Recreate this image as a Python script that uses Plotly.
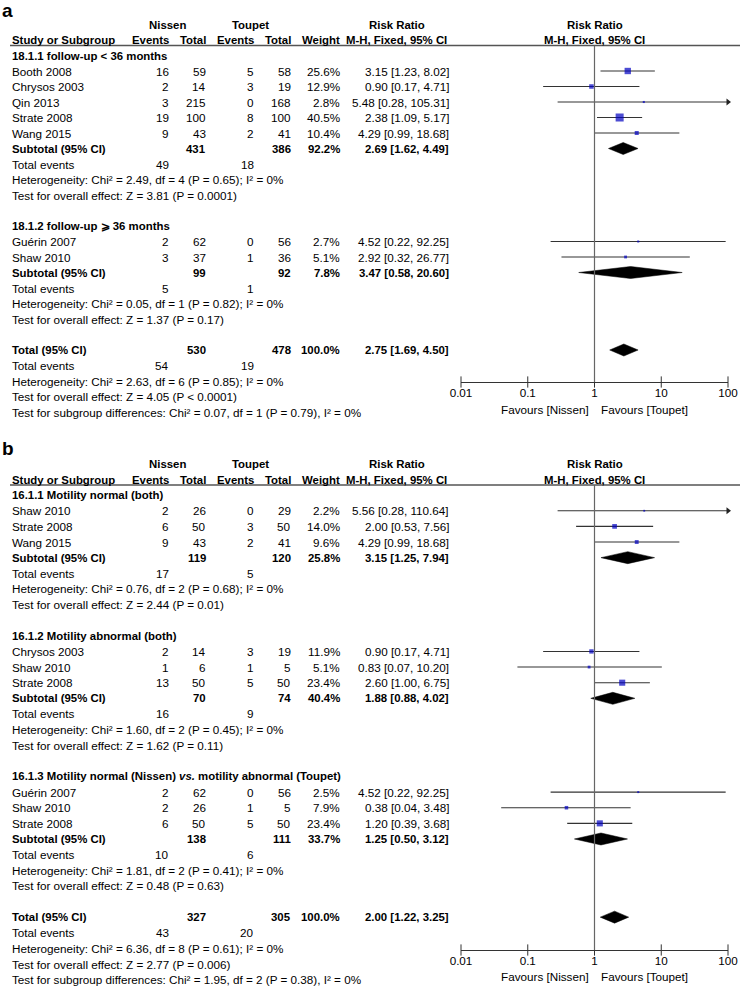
import math
import plotly.graph_objects as go

W, H = 740, 992
FONT = "Liberation Sans, Arial, sans-serif"
FS = 11.7
FS_BOLD = 11.4

# ---------------- axis ticks ----------------
TICK_VALUES = [0.01, 0.1, 1, 10, 100]
TICK_LABELS = ["0.01", "0.1", "1", "10", "100"]
X_RANGE_LOG = [-2, 2]
NO_EFFECT = 1

# ---------------- Panel a data ----------------
A_GROUP_TITLES = ["18.1.1 follow-up < 36 months", "18.1.2 follow-up ⩾ 36 months"]
A_STUDY_GROUP = [0, 0, 0, 0, 0, 1, 1]
A_STUDY = ["Booth 2008", "Chrysos 2003", "Qin 2013", "Strate 2008", "Wang 2015",
           "Guérin 2007", "Shaw 2010"]
A_NISSEN_EVENTS = [16, 2, 3, 19, 9, 2, 3]
A_NISSEN_TOTAL = [59, 14, 215, 100, 43, 62, 37]
A_TOUPET_EVENTS = [5, 3, 0, 8, 2, 0, 1]
A_TOUPET_TOTAL = [58, 19, 168, 100, 41, 56, 36]
A_WEIGHT = [25.6, 12.9, 2.8, 40.5, 10.4, 2.7, 5.1]
A_RR = [3.15, 0.90, 5.48, 2.38, 4.29, 4.52, 2.92]
A_LO = [1.23, 0.17, 0.28, 1.09, 0.99, 0.22, 0.32]
A_HI = [8.02, 4.71, 105.31, 5.17, 18.68, 92.25, 26.77]

A_SUB_NISSEN_TOTAL = [431, 99]
A_SUB_TOUPET_TOTAL = [386, 92]
A_SUB_WEIGHT = [92.2, 7.8]
A_SUB_RR = [2.69, 3.47]
A_SUB_LO = [1.62, 0.58]
A_SUB_HI = [4.49, 20.60]
A_SUB_NISSEN_EVENTS = [49, 5]
A_SUB_TOUPET_EVENTS = [18, 1]
A_SUB_HET = ["Chi² = 2.49, df = 4 (P = 0.65); I² = 0%",
             "Chi² = 0.05, df = 1 (P = 0.82); I² = 0%"]
A_SUB_Z = ["Z = 3.81 (P = 0.0001)", "Z = 1.37 (P = 0.17)"]

A_TOT_NISSEN_TOTAL = 530
A_TOT_TOUPET_TOTAL = 478
A_TOT_WEIGHT = 100.0
A_TOT_RR = 2.75
A_TOT_LO = 1.69
A_TOT_HI = 4.50
A_TOT_NISSEN_EVENTS = 54
A_TOT_TOUPET_EVENTS = 19
A_TOT_HET = "Chi² = 2.63, df = 6 (P = 0.85); I² = 0%"
A_TOT_Z = "Z = 4.05 (P < 0.0001)"
A_SUBGROUP_DIFF = "Chi² = 0.07, df = 1 (P = 0.79), I² = 0%"

# ---------------- Panel b data ----------------
B_GROUP_TITLES = ["16.1.1 Motility normal (both)",
                  "16.1.2 Motility abnormal (both)",
                  "16.1.3 Motility normal (Nissen) <i>vs.</i> motility abnormal (Toupet)"]
B_STUDY_GROUP = [0, 0, 0, 1, 1, 1, 2, 2, 2]
B_STUDY = ["Shaw 2010", "Strate 2008", "Wang 2015",
           "Chrysos 2003", "Shaw 2010", "Strate 2008",
           "Guérin 2007", "Shaw 2010", "Strate 2008"]
B_NISSEN_EVENTS = [2, 6, 9, 2, 1, 13, 2, 2, 6]
B_NISSEN_TOTAL = [26, 50, 43, 14, 6, 50, 62, 26, 50]
B_TOUPET_EVENTS = [0, 3, 2, 3, 1, 5, 0, 1, 5]
B_TOUPET_TOTAL = [29, 50, 41, 19, 5, 50, 56, 5, 50]
B_WEIGHT = [2.2, 14.0, 9.6, 11.9, 5.1, 23.4, 2.5, 7.9, 23.4]
B_RR = [5.56, 2.00, 4.29, 0.90, 0.83, 2.60, 4.52, 0.38, 1.20]
B_LO = [0.28, 0.53, 0.99, 0.17, 0.07, 1.00, 0.22, 0.04, 0.39]
B_HI = [110.64, 7.56, 18.68, 4.71, 10.20, 6.75, 92.25, 3.48, 3.68]

B_SUB_NISSEN_TOTAL = [119, 70, 138]
B_SUB_TOUPET_TOTAL = [120, 74, 111]
B_SUB_WEIGHT = [25.8, 40.4, 33.7]
B_SUB_RR = [3.15, 1.88, 1.25]
B_SUB_LO = [1.25, 0.88, 0.50]
B_SUB_HI = [7.94, 4.02, 3.12]
B_SUB_NISSEN_EVENTS = [17, 16, 10]
B_SUB_TOUPET_EVENTS = [5, 9, 6]
B_SUB_HET = ["Chi² = 0.76, df = 2 (P = 0.68); I² = 0%",
             "Chi² = 1.60, df = 2 (P = 0.45); I² = 0%",
             "Chi² = 1.81, df = 2 (P = 0.41); I² = 0%"]
B_SUB_Z = ["Z = 2.44 (P = 0.01)", "Z = 1.62 (P = 0.11)", "Z = 0.48 (P = 0.63)"]

B_TOT_NISSEN_TOTAL = 327
B_TOT_TOUPET_TOTAL = 305
B_TOT_WEIGHT = 100.0
B_TOT_RR = 2.00
B_TOT_LO = 1.22
B_TOT_HI = 3.25
B_TOT_NISSEN_EVENTS = 43
B_TOT_TOUPET_EVENTS = 20
B_TOT_HET = "Chi² = 6.36, df = 8 (P = 0.61); I² = 0%"
B_TOT_Z = "Z = 2.77 (P = 0.006)"
B_SUBGROUP_DIFF = "Chi² = 1.95, df = 2 (P = 0.38), I² = 0%"

# ---------------- layout constants (pixels) ----------------
COL_STUDY = 11
COL_N_EV = 170
COL_N_TOT = 207
COL_T_EV = 255
COL_T_TOT = 292
COL_WEIGHT = 341
COL_RR = 450
COL_NISSEN_HDR = 167
COL_TOUPET_HDR = 251
COL_RR_HDR = 397
X_DOMAIN_PX = (461, 728)

PANELS = [
    dict(label="a", row0=40.0, rowh=15.5, top=2, bottom=426, axis_px=382, line_px=45.5,
         favours_px=409, label_px=10,
         groups=A_GROUP_TITLES, sg=A_STUDY_GROUP, study=A_STUDY,
         nev=A_NISSEN_EVENTS, ntot=A_NISSEN_TOTAL, tev=A_TOUPET_EVENTS, ttot=A_TOUPET_TOTAL,
         w=A_WEIGHT, rr=A_RR, lo=A_LO, hi=A_HI,
         s_ntot=A_SUB_NISSEN_TOTAL, s_ttot=A_SUB_TOUPET_TOTAL, s_w=A_SUB_WEIGHT,
         s_rr=A_SUB_RR, s_lo=A_SUB_LO, s_hi=A_SUB_HI, s_nev=A_SUB_NISSEN_EVENTS,
         s_tev=A_SUB_TOUPET_EVENTS, s_het=A_SUB_HET, s_z=A_SUB_Z,
         t_ntot=A_TOT_NISSEN_TOTAL, t_ttot=A_TOT_TOUPET_TOTAL, t_w=A_TOT_WEIGHT,
         t_rr=A_TOT_RR, t_lo=A_TOT_LO, t_hi=A_TOT_HI, t_nev=A_TOT_NISSEN_EVENTS,
         t_tev=A_TOT_TOUPET_EVENTS, t_het=A_TOT_HET, t_z=A_TOT_Z, diff=A_SUBGROUP_DIFF),
    dict(label="b", row0=479.5, rowh=15.63, top=434, bottom=991, axis_px=950, line_px=485,
         favours_px=976, label_px=448,
         groups=B_GROUP_TITLES, sg=B_STUDY_GROUP, study=B_STUDY,
         nev=B_NISSEN_EVENTS, ntot=B_NISSEN_TOTAL, tev=B_TOUPET_EVENTS, ttot=B_TOUPET_TOTAL,
         w=B_WEIGHT, rr=B_RR, lo=B_LO, hi=B_HI,
         s_ntot=B_SUB_NISSEN_TOTAL, s_ttot=B_SUB_TOUPET_TOTAL, s_w=B_SUB_WEIGHT,
         s_rr=B_SUB_RR, s_lo=B_SUB_LO, s_hi=B_SUB_HI, s_nev=B_SUB_NISSEN_EVENTS,
         s_tev=B_SUB_TOUPET_EVENTS, s_het=B_SUB_HET, s_z=B_SUB_Z,
         t_ntot=B_TOT_NISSEN_TOTAL, t_ttot=B_TOT_TOUPET_TOTAL, t_w=B_TOT_WEIGHT,
         t_rr=B_TOT_RR, t_lo=B_TOT_LO, t_hi=B_TOT_HI, t_nev=B_TOT_NISSEN_EVENTS,
         t_tev=B_TOT_TOUPET_EVENTS, t_het=B_TOT_HET, t_z=B_TOT_Z, diff=B_SUBGROUP_DIFF),
]

fig = go.Figure()
annotations = []
shapes = []
layout_axes = {}


def ci_text(rr, lo, hi):
    return f"{rr:.2f} [{lo:.2f}, {hi:.2f}]"


def add_text(text, xpos, row, yref, anchor="left", bold=False, size=None, xref="paper", xshift=0):
    """xpos: pixel column for paper refs, or a risk-ratio value for data refs (log axis)."""
    if size is None:
        size = FS_BOLD if bold else FS
    if bold:
        text = f"<b>{text}</b>"
    x = xpos / W if xref == "paper" else math.log10(xpos)
    annotations.append(dict(
        x=x, xref=xref, y=row, yref=yref,
        xanchor=anchor, yanchor="middle", showarrow=False, text=text, xshift=xshift,
        borderpad=0, font=dict(family=FONT, size=size, color="#000000")))


for pi, P in enumerate(PANELS):
    xa = "x" if pi == 0 else "x2"
    ya = "y" if pi == 0 else "y2"
    row0, rowh = P["row0"], P["rowh"]

    def prow(px):
        return (px - row0) / rowh

    layout_axes["xaxis" if pi == 0 else "xaxis2"] = dict(
        type="log", range=X_RANGE_LOG,
        domain=[X_DOMAIN_PX[0] / W, X_DOMAIN_PX[1] / W],
        anchor="free", position=1 - P["axis_px"] / H, automargin=False,
        showline=True, linecolor="#333333", linewidth=1,
        showgrid=False, zeroline=False, ticks="",
        tickvals=TICK_VALUES, ticktext=TICK_LABELS, ticklabelstandoff=0,
        tickfont=dict(family=FONT, size=FS, color="#000000"), fixedrange=True)
    layout_axes["yaxis" if pi == 0 else "yaxis2"] = dict(
        range=[prow(P["bottom"]), prow(P["top"])],
        domain=[1 - P["bottom"] / H, 1 - P["top"] / H], automargin=False,
        anchor="free", position=0, visible=False, fixedrange=True)

    axis_row = prow(P["axis_px"])
    line_row = prow(P["line_px"])

    add_text(P["label"], 1, prow(P["label_px"]), ya, bold=True, size=19)

    add_text("Nissen", COL_NISSEN_HDR, -1, ya, "center", True)
    add_text("Toupet", COL_TOUPET_HDR, -1, ya, "center", True)
    add_text("Risk Ratio", COL_RR_HDR, -1, ya, "center", True)
    add_text("Risk Ratio", NO_EFFECT, -1, ya, "center", True, xref=xa)
    add_text("Study or Subgroup", COL_STUDY, 0, ya, "left", True)
    add_text("Events", COL_N_EV, 0, ya, "right", True)
    add_text("Total", COL_N_TOT, 0, ya, "right", True)
    add_text("Events", COL_T_EV, 0, ya, "right", True)
    add_text("Total", COL_T_TOT, 0, ya, "right", True)
    add_text("Weight", COL_WEIGHT, 0, ya, "right", True)
    add_text("M-H, Fixed, 95% CI", COL_RR_HDR, 0, ya, "center", True)
    add_text("M-H, Fixed, 95% CI", NO_EFFECT, 0, ya, "center", True, xref=xa)

    shapes.append(dict(type="line", xref="paper", yref=ya, x0=10 / W, x1=1,
                       y0=line_row, y1=line_row, line=dict(color="#555555", width=1.3)))
    shapes.append(dict(type="line", xref=xa, yref=ya, x0=NO_EFFECT, x1=NO_EFFECT,
                       y0=line_row, y1=axis_row, line=dict(color="#666666", width=1.2)))

    r = 1
    sq_x, sq_y, sq_s = [], [], []
    arrow_y = []
    diamonds = []
    for g, title in enumerate(P["groups"]):
        add_text(title, COL_STUDY, r, ya, bold=True)
        r += 1
        for i, s in enumerate(P["study"]):
            if P["sg"][i] != g:
                continue
            add_text(s, COL_STUDY, r, ya)
            add_text(str(P["nev"][i]), COL_N_EV, r, ya, "right")
            add_text(str(P["ntot"][i]), COL_N_TOT, r, ya, "right")
            add_text(str(P["tev"][i]), COL_T_EV, r, ya, "right")
            add_text(str(P["ttot"][i]), COL_T_TOT, r, ya, "right")
            add_text(f"{P['w'][i]:.1f}%", COL_WEIGHT, r, ya, "right")
            add_text(ci_text(P["rr"][i], P["lo"][i], P["hi"][i]), COL_RR, r, ya, "right")
            fig.add_trace(go.Scatter(x=[P["lo"][i], P["hi"][i]], y=[r, r], mode="lines",
                                     line=dict(color="#333333", width=1.1),
                                     xaxis=xa, yaxis=ya, hoverinfo="skip", showlegend=False))
            if P["hi"][i] > 10 ** X_RANGE_LOG[1]:
                arrow_y.append(r)
            sq_x.append(P["rr"][i])
            sq_y.append(r)
            sq_s.append(1.26 * math.sqrt(P["w"][i]))
            r += 1
        add_text("Subtotal (95% CI)", COL_STUDY, r, ya, bold=True)
        add_text(str(P["s_ntot"][g]), COL_N_TOT, r, ya, "right", True)
        add_text(str(P["s_ttot"][g]), COL_T_TOT, r, ya, "right", True)
        add_text(f"{P['s_w'][g]:.1f}%", COL_WEIGHT, r, ya, "right", True)
        add_text(ci_text(P["s_rr"][g], P["s_lo"][g], P["s_hi"][g]), COL_RR, r, ya, "right", True)
        diamonds.append((P["s_rr"][g], P["s_lo"][g], P["s_hi"][g], r))
        r += 1
        add_text("Total events", COL_STUDY, r, ya)
        add_text(str(P["s_nev"][g]), COL_N_EV, r, ya, "right")
        add_text(str(P["s_tev"][g]), COL_T_EV, r, ya, "right")
        r += 1
        add_text("Heterogeneity: " + P["s_het"][g], COL_STUDY, r, ya)
        r += 1
        add_text("Test for overall effect: " + P["s_z"][g], COL_STUDY, r, ya)
        r += 2

    add_text("Total (95% CI)", COL_STUDY, r, ya, bold=True)
    add_text(str(P["t_ntot"]), COL_N_TOT, r, ya, "right", True)
    add_text(str(P["t_ttot"]), COL_T_TOT, r, ya, "right", True)
    add_text(f"{P['t_w']:.1f}%", COL_WEIGHT, r, ya, "right", True)
    add_text(ci_text(P["t_rr"], P["t_lo"], P["t_hi"]), COL_RR, r, ya, "right", True)
    diamonds.append((P["t_rr"], P["t_lo"], P["t_hi"], r))
    r += 1
    add_text("Total events", COL_STUDY, r, ya)
    add_text(str(P["t_nev"]), COL_N_EV, r, ya, "right")
    add_text(str(P["t_tev"]), COL_T_EV, r, ya, "right")
    r += 1
    add_text("Heterogeneity: " + P["t_het"], COL_STUDY, r, ya)
    r += 1
    add_text("Test for overall effect: " + P["t_z"], COL_STUDY, r, ya)
    r += 1
    add_text("Test for subgroup differences: " + P["diff"], COL_STUDY, r, ya)

    if arrow_y:
        fig.add_trace(go.Scatter(x=[10 ** X_RANGE_LOG[1]] * len(arrow_y), y=arrow_y, mode="markers",
                                 marker=dict(symbol="triangle-right", size=6, color="#222222"),
                                 cliponaxis=False, xaxis=xa, yaxis=ya, hoverinfo="skip",
                                 showlegend=False))
    fig.add_trace(go.Scatter(x=sq_x, y=sq_y, mode="markers",
                             marker=dict(symbol="square", size=sq_s, color="#0000c0",
                                         line=dict(width=0)),
                             cliponaxis=False, xaxis=xa, yaxis=ya, hoverinfo="skip",
                             showlegend=False))
    half = 6.0 / rowh
    for est, lo, hi, dr in diamonds:
        fig.add_trace(go.Scatter(x=[lo, est, hi, est, lo], y=[dr, dr - half, dr, dr + half, dr],
                                 mode="lines", fill="toself", fillcolor="#000000",
                                 line=dict(color="#000000", width=0.5),
                                 xaxis=xa, yaxis=ya, hoverinfo="skip", showlegend=False))
    fig.add_trace(go.Scatter(x=TICK_VALUES, y=[axis_row] * len(TICK_VALUES), mode="markers",
                             marker=dict(symbol="line-ns-open", size=8, color="#333333",
                                         line=dict(color="#333333", width=1)),
                             cliponaxis=False, xaxis=xa, yaxis=ya, hoverinfo="skip",
                             showlegend=False))
    fav_row = prow(P["favours_px"])
    add_text("Favours [Nissen]", NO_EFFECT, fav_row, ya, "right", xref=xa, xshift=-5)
    add_text("Favours [Toupet]", NO_EFFECT, fav_row, ya, "left", xref=xa, xshift=5)

fig.update_layout(
    template="none",
    width=W, height=H, autosize=False,
    margin=dict(l=0, r=0, t=0, b=0, pad=0, autoexpand=False),
    paper_bgcolor="white", plot_bgcolor="white",
    showlegend=False, annotations=annotations, shapes=shapes,
    font=dict(family=FONT, size=FS, color="#000000"),
    **layout_axes,
)

fig.write_html("out.html", config={"displayModeBar": False},
               post_script="document.body.style.margin='0';document.body.style.overflow='hidden';")
